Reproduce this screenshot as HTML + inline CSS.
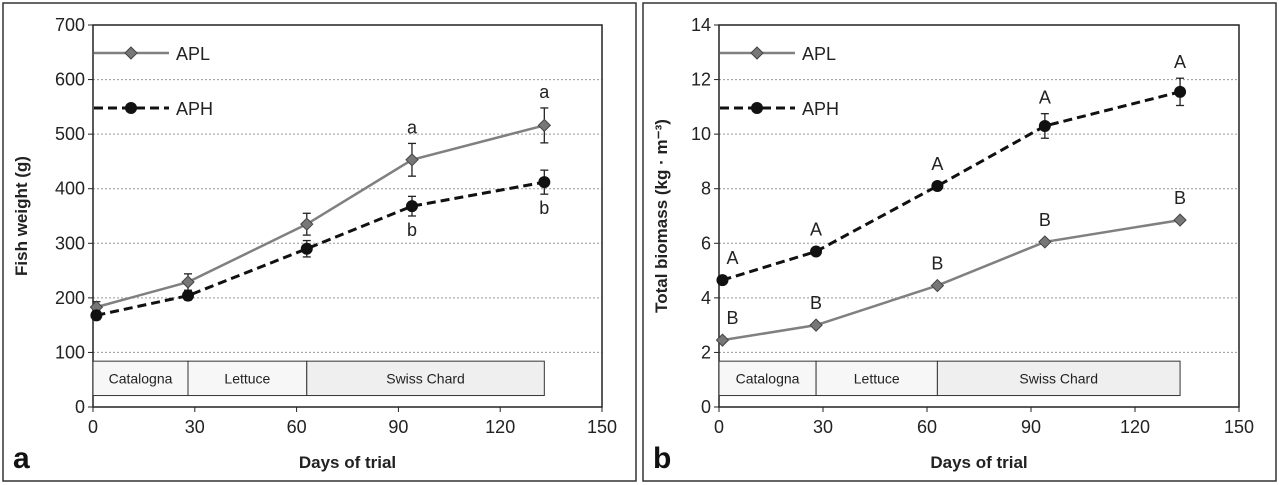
<!DOCTYPE html>
<html><head><meta charset="utf-8"><style>
body{margin:0;background:#fff;}
svg{display:block;font-family:"Liberation Sans",sans-serif;}
</style></head><body>
<svg id="chart" width="1280" height="485" viewBox="0 0 1280 485"></svg>
<script>
const days=[1,28,63,94,133];
const aplWeight=[183,229,335,453,516];
const aplWeightErr=[10,15,20,30,32];
const aphWeight=[168,204,290,368,412];
const aphWeightErr=[8,8,15,18,22];
const aplBio=[2.45,3.0,4.45,6.05,6.85];
const aplBioErr=[0.05,0.05,0.05,0.05,0.05];
const aphBio=[4.65,5.7,8.1,10.3,11.55];
const aphBioErr=[0.1,0.1,0.1,0.45,0.5];
const xTicks=[0,30,60,90,120,150];
const yTicksA=[0,100,200,300,400,500,600,700];
const yTicksB=[0,2,4,6,8,10,12,14];
const crops=["Catalogna","Lettuce","Swiss Chard"];
const cropBounds=[0,28,63,133];
const lettersA_apl=["","","","a","a"];
const lettersA_aph=["","","","b","b"];
const lettersB_apl=["B","B","B","B","B"];
const lettersB_aph=["A","A","A","A","A"];

const NS="http://www.w3.org/2000/svg";
const svg=document.getElementById('chart');
function mk(tag,attrs,parent,text){const e=document.createElementNS(NS,tag);for(const k in attrs)e.setAttribute(k,attrs[k]);if(text!==undefined)e.textContent=text;(parent||svg).appendChild(e);return e;}

function panel(cfg){
  const g=mk('g',{});
  
  
  const fr=mk('rect',{x:cfg.fx,y:3,width:633,height:478,fill:'none',stroke:'#333','stroke-width':1.5},g);
  
  
  const x0=cfg.x0,x1=cfg.x1,yT=25,yB=407;
  const sx=v=>x0+(v/150)*(x1-x0);
  const sy=v=>yB-(v/cfg.ymax)*(yB-yT);
  cfg.yTicks.forEach(t=>{
    if(t>0&&t<cfg.ymax){const l=mk('line',{x1:x0,x2:x1,y1:sy(t),y2:sy(t),stroke:'#999','stroke-dasharray':'2,2'},g);
    }
    const tx=mk('text',{x:x0-8,y:sy(t)+6,'text-anchor':'end','font-size':18,fill:'#222'},g,String(t));
    
    mk('line',{x1:x0-5,x2:x0,y1:sy(t),y2:sy(t),stroke:'#222'},g);
  });
  xTicks.forEach(t=>{
    mk('line',{x1:sx(t),x2:sx(t),y1:yB,y2:yB+5,stroke:'#222'},g);
    const tx=mk('text',{x:sx(t),y:yB+26,'text-anchor':'middle','font-size':18,fill:'#222'},g,String(t));
    
  });
  const ax=mk('rect',{x:x0,y:yT,width:x1-x0,height:yB-yT,fill:'none',stroke:'#222','stroke-width':1.5},g);
  
  const cy=cfg.ymax*0.12, cyB=cfg.ymax*0.03;
  crops.forEach((c,i)=>{
    const r=mk('rect',{x:sx(cropBounds[i]),y:sy(cy),width:sx(cropBounds[i+1])-sx(cropBounds[i]),height:sy(cyB)-sy(cy),fill:i==2?'#efefef':'#f7f7f7',stroke:'#333'},g);
    
    const t=mk('text',{x:(sx(cropBounds[i])+sx(cropBounds[i+1]))/2,y:(sy(cy)+sy(cyB))/2+5,'text-anchor':'middle','font-size':14,fill:'#222'},g,c);
    
  });
  function series(vals,errs,color,dash,marker,name,letters,above){
    const pts=days.map((d,i)=>sx(d)+','+sy(vals[i])).join(' ');
    const pl=mk('polyline',{points:pts,fill:'none',stroke:color,'stroke-width':dash?3:2.5,'stroke-dasharray':dash?'9,5':'none'},g);
    
    days.forEach((d,i)=>{
      const x=sx(d),y=sy(vals[i]),e1=sy(vals[i]+errs[i]),e2=sy(vals[i]-errs[i]);
      if(Math.abs(e2-e1)>4){
        mk('line',{x1:x,x2:x,y1:e1,y2:e2,stroke:'#222','stroke-width':1.3},g);
        mk('line',{x1:x-4,x2:x+4,y1:e1,y2:e1,stroke:'#222','stroke-width':1.3},g);
        mk('line',{x1:x-4,x2:x+4,y1:e2,y2:e2,stroke:'#222','stroke-width':1.3},g);
      }
      let m;
      if(marker=='diamond') m=mk('polygon',{points:`${x},${y-6} ${x+6},${y} ${x},${y+6} ${x-6},${y}`,fill:'#777',stroke:'#444'},g);
      else m=mk('circle',{cx:x,cy:y,r:6,fill:'#111'},g);
      
      if(letters[i]){
        const ly=above?Math.min(e1,y-6)-10:Math.max(e2,y+6)+20;
        const t=mk('text',{x:x+(i==0?10:0),y:ly,'text-anchor':'middle','font-size':18,fill:'#222'},g,letters[i]);
        
      }
    });
  }
  series(cfg.apl,cfg.aplErr,'#808080',false,'diamond','apl',cfg.aplLetters,true);
  series(cfg.aph,cfg.aphErr,'#111',true,'circle','aph',cfg.aphLetters,cfg.aphAbove);
  const l1=mk('g',{},g);
  mk('line',{x1:x0+1,x2:x0+76,y1:53,y2:53,stroke:'#808080','stroke-width':2.5},l1);
  mk('polygon',{points:`${x0+38},47 ${x0+44},53 ${x0+38},59 ${x0+32},53`,fill:'#777',stroke:'#444'},l1);
  mk('text',{x:x0+83,y:60,'font-size':18,fill:'#222'},l1,'APL');
  const l2=mk('g',{},g);
  mk('line',{x1:x0+1,x2:x0+76,y1:108,y2:108,stroke:'#111','stroke-width':3,'stroke-dasharray':'9,5'},l2);
  mk('circle',{cx:x0+38,cy:108,r:6,fill:'#111'},l2);
  mk('text',{x:x0+83,y:115,'font-size':18,fill:'#222'},l2,'APH');
  const xt=mk('text',{x:(x0+x1)/2,y:468,'text-anchor':'middle','font-size':17,'font-weight':'bold',fill:'#222'},g,'Days of trial');
  
  const yt=mk('text',{x:0,y:0,'text-anchor':'middle','font-size':17,'font-weight':'bold',fill:'#222',transform:`translate(${cfg.fx+24},${(yT+yB)/2}) rotate(-90)`},g,cfg.ytitle);
  
  const pl=mk('text',{x:cfg.fx+10,y:468,'font-size':30,'font-weight':'bold',fill:'#111'},g,cfg.letter);
  
}
panel({name:'panel-a-fish-weight',fx:3,x0:93,x1:602,ymax:700,yTicks:yTicksA,apl:aplWeight,aplErr:aplWeightErr,aph:aphWeight,aphErr:aphWeightErr,aplLetters:lettersA_apl,aphLetters:lettersA_aph,aphAbove:false,ytitle:'Fish weight (g)',letter:'a'});
panel({name:'panel-b-total-biomass',fx:643,x0:719,x1:1239,ymax:14,yTicks:yTicksB,apl:aplBio,aplErr:aplBioErr,aph:aphBio,aphErr:aphBioErr,aplLetters:lettersB_apl,aphLetters:lettersB_aph,aphAbove:true,ytitle:'Total biomass (kg · m⁻³)',letter:'b'});
</script>
</body></html>
